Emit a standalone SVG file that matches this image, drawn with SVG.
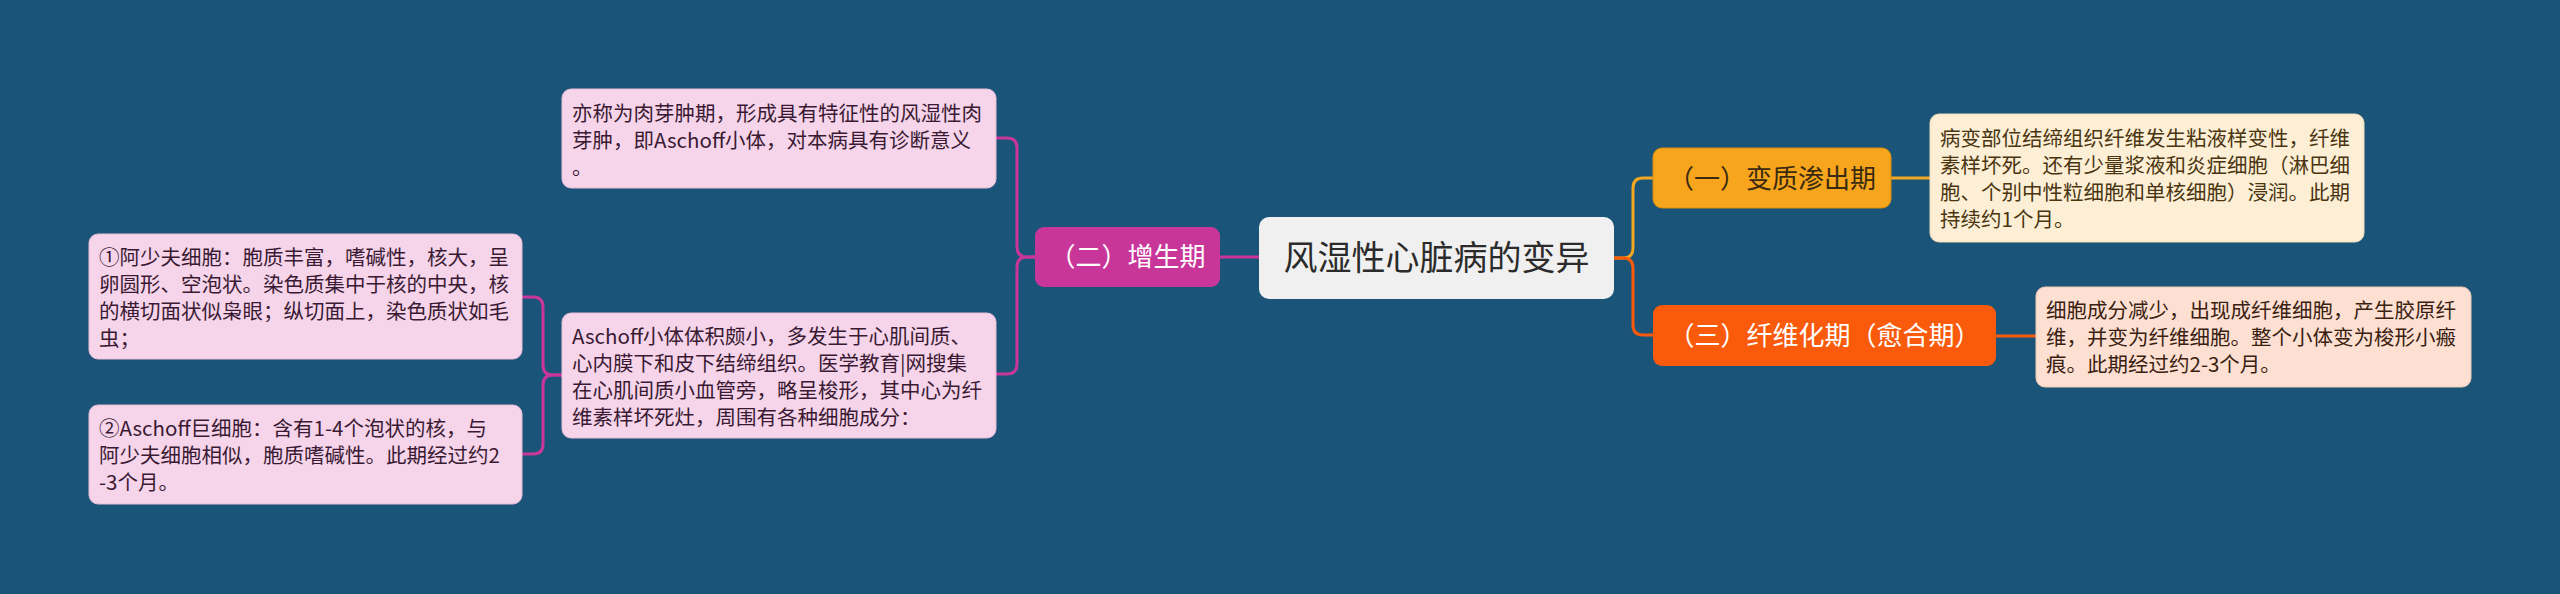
<svg xmlns="http://www.w3.org/2000/svg" width="2560" height="594" viewBox="0 0 2560 594">
<style>
text{font-family:"Noto Sans CJK SC","Noto Sans",sans-serif;}
.d{font-size:20.5px;}
.pk{fill:#f6d4ea;stroke:#e8bcd8;stroke-width:1;}
.pkt{fill:#3a1a33;}
.cr{fill:#fdefd5;stroke:#efdcb8;stroke-width:1;}
.crt{fill:#4a3510;}
.pc{fill:#fde0d2;stroke:#f0c9b6;stroke-width:1;}
.pct{fill:#3a2010;}
.br{font-size:26px;}
.c{fill:none;stroke-width:3;stroke-linecap:round;}
</style>
<rect width="2560" height="594" fill="#1a5478"/>
<g id="connectors">
<path class="c" stroke="#c9369a" d="M1220 257 H1259"/>
<path class="c" stroke="#c9369a" d="M1035 257 H1027 Q1017 257 1017 247 V148 Q1017 138 1007 138 H995"/>
<path class="c" stroke="#c9369a" d="M1035 257 H1027 Q1017 257 1017 267 V364 Q1017 374 1007 374 H995"/>
<path class="c" stroke="#c9369a" d="M562 375 H553 Q543 375 543 365 V307 Q543 297 533 297 H521"/>
<path class="c" stroke="#c9369a" d="M562 375 H553 Q543 375 543 385 V444 Q543 454 533 454 H521"/>
<path class="c" stroke="#f5a623" d="M1614 258 H1623 Q1633 258 1633 248 V188 Q1633 178 1643 178 H1653"/>
<path class="c" stroke="#f95a0b" d="M1614 258 H1623 Q1633 258 1633 268 V325 Q1633 335 1643 335 H1653"/>
<path class="c" stroke="#f5a623" d="M1891 178 H1930"/>
<path class="c" stroke="#f95a0b" d="M1996 336 H2036"/>
</g>
<g id="root">
<rect x="1259" y="217" width="355" height="82" rx="10" fill="#f0f0f0"/>
<text x="1436.5" y="270" font-size="34" fill="#2b2b2b" text-anchor="middle">风湿性心脏病的变异</text>
</g>
<g id="n2">
<rect x="1035" y="227" width="185" height="60" rx="9" fill="#c9369a"/>
<text class="br" x="1127.5" y="266" fill="#ffffff" text-anchor="middle">（二）增生期</text>
</g>
<g id="n1">
<rect x="1653" y="148" width="238" height="60" rx="9" fill="#f7a51c" stroke="#d88c10" stroke-width="1"/>
<text class="br" x="1772" y="188" fill="#3a2a10" text-anchor="middle">（一）变质渗出期</text>
</g>
<g id="n3">
<rect x="1653" y="305" width="343" height="61" rx="9" fill="#f95a0b"/>
<text class="br" x="1824.5" y="345" fill="#ffffff" text-anchor="middle">（三）纤维化期（愈合期）</text>
</g>
<g id="n1d">
<rect class="cr" x="1930" y="114" width="434" height="128" rx="9"/>
<text class="d crt" x="1940"><tspan x="1940" y="146">病变部位结缔组织纤维发生粘液样变性，纤维</tspan><tspan x="1940" y="173">素样坏死。还有少量浆液和炎症细胞（淋巴细</tspan><tspan x="1940" y="200">胞、个别中性粒细胞和单核细胞）浸润。此期</tspan><tspan x="1940" y="227">持续约1个月。</tspan></text>
</g>
<g id="n3d">
<rect class="pc" x="2036" y="287" width="435" height="100" rx="9"/>
<text class="d pct" x="2046"><tspan x="2046" y="318">细胞成分减少，出现成纤维细胞，产生胶原纤</tspan><tspan x="2046" y="345">维，并变为纤维细胞。整个小体变为梭形小瘢</tspan><tspan x="2046" y="372">痕。此期经过约2-3个月。</tspan></text>
</g>
<g id="n2a">
<rect class="pk" x="562" y="89" width="434" height="99" rx="9"/>
<text class="d pkt" x="572"><tspan x="572" y="121">亦称为肉芽肿期，形成具有特征性的风湿性肉</tspan><tspan x="572" y="148">芽肿，即Aschoff小体，对本病具有诊断意义</tspan><tspan x="572" y="175">。</tspan></text>
</g>
<g id="n2b">
<rect class="pk" x="562" y="313" width="434" height="125" rx="9"/>
<text class="d pkt" x="572"><tspan x="572" y="344">Aschoff小体体积颇小，多发生于心肌间质、</tspan><tspan x="572" y="371">心内膜下和皮下结缔组织。医学教育|网搜集</tspan><tspan x="572" y="398">在心肌间质小血管旁，略呈梭形，其中心为纤</tspan><tspan x="572" y="425">维素样坏死灶，周围有各种细胞成分：</tspan></text>
</g>
<g id="n2b1">
<rect class="pk" x="89" y="234" width="433" height="125" rx="9"/>
<text class="d pkt" x="99"><tspan x="99" y="265">①阿少夫细胞：胞质丰富，嗜碱性，核大，呈</tspan><tspan x="99" y="292">卵圆形、空泡状。染色质集中于核的中央，核</tspan><tspan x="99" y="319">的横切面状似枭眼；纵切面上，染色质状如毛</tspan><tspan x="99" y="346">虫；</tspan></text>
</g>
<g id="n2b2">
<rect class="pk" x="89" y="405" width="433" height="99" rx="9"/>
<text class="d pkt" x="99"><tspan x="99" y="436">②Aschoff巨细胞：含有1-4个泡状的核，与</tspan><tspan x="99" y="463">阿少夫细胞相似，胞质嗜碱性。此期经过约2</tspan><tspan x="99" y="490">-3个月。</tspan></text>
</g>
</svg>
